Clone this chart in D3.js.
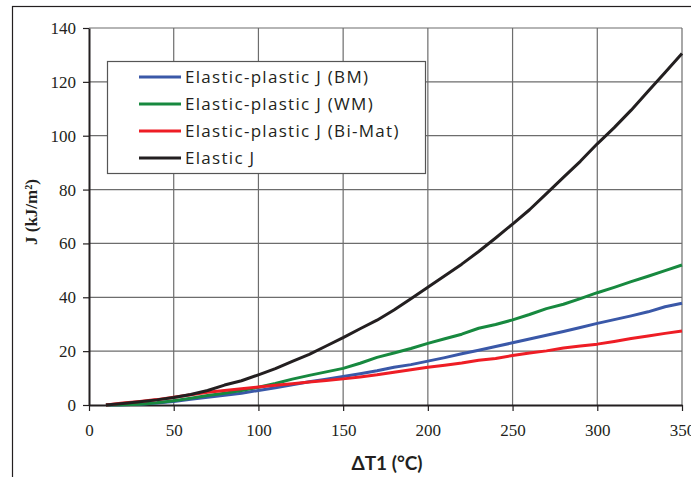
<!DOCTYPE html>
<html>
<head>
<meta charset="utf-8">
<script src="https://cdn.jsdelivr.net/npm/d3@7"></script>
<style>
  body { margin: 0; background: #fff; }
  svg { display: block; }
</style>
</head>
<body>
<svg></svg>
<script>
// temperature difference (°C)
let deltaT = [10, 20, 30, 40, 50, 60, 70, 80, 90, 100, 110, 120, 130, 140, 150, 160, 170, 180,
              190, 200, 210, 220, 230, 240, 250, 260, 270, 280, 290, 300, 310, 320, 330, 340, 350]

// J values (kJ/m²)
let jBM = [0, 0.1, 0.3, 0.7, 1.3, 2.1, 2.9, 3.6, 4.4, 5.4, 6.4, 7.5, 8.6, 9.6, 10.6, 11.6, 12.7, 14.0,
           15.0, 16.3, 17.6, 19.0, 20.3, 21.7, 23.1, 24.5, 25.9, 27.3, 28.8, 30.3, 31.7, 33.1, 34.6, 36.5, 37.8]
let jWM = [0, 0.1, 0.3, 0.8, 1.6, 2.5, 3.5, 4.4, 5.4, 6.6, 8.0, 9.6, 11.0, 12.3, 13.6, 15.5, 17.7, 19.3,
           21.0, 22.9, 24.6, 26.3, 28.5, 29.9, 31.6, 33.6, 35.8, 37.4, 39.5, 41.7, 43.7, 45.8, 47.8, 49.9, 52.0]
let jBiMat = [0, 0.7, 1.3, 2.0, 2.9, 3.8, 4.7, 5.4, 6.0, 6.7, 7.3, 7.9, 8.5, 9.1, 9.7, 10.4, 11.2, 12.2,
              13.1, 14.0, 14.8, 15.6, 16.6, 17.3, 18.4, 19.3, 20.1, 21.2, 21.9, 22.6, 23.6, 24.7, 25.6, 26.6, 27.5]
let jElastic = [0, 0.6, 1.2, 1.9, 2.8, 3.9, 5.4, 7.4, 9.0, 11.2, 13.5, 16.2, 18.8, 21.9, 25.0, 28.3, 31.5, 35.3,
                39.5, 43.7, 48.0, 52.3, 57.0, 62.0, 67.2, 72.5, 78.5, 84.5, 90.5, 97.0, 103.0, 109.5, 116.5, 123.5, 130.5]

let seriesNames = ['Elastic-plastic J (BM)', 'Elastic-plastic J (WM)', 'Elastic-plastic J (Bi-Mat)', 'Elastic J']
let seriesValues = [jBM, jWM, jBiMat, jElastic]
let seriesColors = ['#3a58a8', '#17893f', '#ee1d25', '#231f20']

let xTicks = [0, 50, 100, 150, 200, 250, 300, 350]
let yTicks = [0, 20, 40, 60, 80, 100, 120, 140]

let width = 691
let height = 477
let plotLeft = 89
let plotRight = 682
let plotTop = 28
let plotBottom = 405

let serif = '"Liberation Serif", "Times New Roman", serif'

let svg = d3.select('svg')
    .attr('width', width)
    .attr('height', height)

// outer frame
svg.append('rect')
    .attr('x', 12.5)
    .attr('y', 6.5)
    .attr('width', 720)
    .attr('height', 520)
    .attr('fill', 'none')
    .attr('stroke', '#231f20')
    .attr('stroke-width', 1.2)

let xScale = d3.scaleLinear().domain([0, 350]).range([plotLeft, plotRight])
let yScale = d3.scaleLinear().domain([0, 140]).range([plotBottom, plotTop])

// grid
svg.append('g')
    .selectAll('line')
    .data(xTicks.slice(1))
    .enter()
    .append('line')
    .attr('x1', d => xScale(d))
    .attr('x2', d => xScale(d))
    .attr('y1', plotTop)
    .attr('y2', plotBottom)
    .attr('stroke', '#6d6d6d')
    .attr('stroke-width', 1.2)

svg.append('g')
    .selectAll('line')
    .data(yTicks.slice(1))
    .enter()
    .append('line')
    .attr('x1', plotLeft)
    .attr('x2', plotRight)
    .attr('y1', d => yScale(d))
    .attr('y2', d => yScale(d))
    .attr('stroke', '#6d6d6d')
    .attr('stroke-width', 1.2)

// axes
let xAxis = d3.axisBottom(xScale).tickValues(xTicks).tickSize(6).tickSizeOuter(0)
let yAxis = d3.axisLeft(yScale).tickValues(yTicks).tickSize(6).tickSizeOuter(0)

let gx = svg.append('g')
    .attr('transform', 'translate(0,' + plotBottom + ')')
    .call(xAxis)
    .attr('font-family', serif)
    .attr('font-size', 17)
gx.select('.domain').attr('stroke', '#231f20').attr('stroke-width', 2)
gx.selectAll('.tick line').attr('stroke', '#231f20').attr('stroke-width', 1.2)
gx.selectAll('text')
    .attr('y', 19)
    .attr('dy', '0.71em')
    .attr('fill', '#231f20')

let gy = svg.append('g')
    .attr('transform', 'translate(' + plotLeft + ',0)')
    .call(yAxis)
    .attr('font-family', serif)
    .attr('font-size', 17)
gy.select('.domain').attr('stroke', '#231f20').attr('stroke-width', 2)
gy.selectAll('.tick line').attr('stroke', '#231f20').attr('stroke-width', 1.2)
gy.selectAll('text')
    .attr('x', -13)
    .attr('fill', '#231f20')

// legend box
svg.append('rect')
    .attr('x', 107.5)
    .attr('y', 61.5)
    .attr('width', 318)
    .attr('height', 112)
    .attr('fill', '#fff')
    .attr('stroke', '#555')
    .attr('stroke-width', 1.2)

let legend = svg.append('g')
    .selectAll('g')
    .data(seriesNames)
    .enter()
    .append('g')
    .attr('transform', (d, i) => 'translate(0,' + (77 + i * 27) + ')')

legend.append('line')
    .attr('x1', 139)
    .attr('x2', 181)
    .attr('stroke', (d, i) => seriesColors[i])
    .attr('stroke-width', 3)

legend.append('text')
    .attr('x', 185)
    .attr('dy', '0.35em')
    .attr('font-family', '"Open Sans", sans-serif')
    .attr('font-size', 17)
    .attr('letter-spacing', 1.3)
    .attr('fill', '#231f20')
    .text(d => d)

// curves
let line = d3.line()
    .x((d, i) => xScale(deltaT[i]))
    .y(d => yScale(d))

svg.append('g')
    .selectAll('path')
    .data(seriesValues)
    .enter()
    .append('path')
    .attr('d', d => line(d))
    .attr('fill', 'none')
    .attr('stroke', (d, i) => seriesColors[i])
    .attr('stroke-width', 3)
    .attr('stroke-linejoin', 'round')

// axis titles
svg.append('text')
    .attr('x', 387)
    .attr('y', 470)
    .attr('text-anchor', 'middle')
    .attr('font-family', 'Lato, sans-serif')
    .attr('font-weight', 'bold')
    .attr('font-size', 19)
    .attr('fill', '#231f20')
    .text('ΔT1 (°C)')

svg.append('text')
    .attr('transform', 'translate(37,212) rotate(-90)')
    .attr('text-anchor', 'middle')
    .attr('font-family', serif)
    .attr('font-weight', 'bold')
    .attr('font-size', 17)
    .attr('fill', '#231f20')
    .text('J (kJ/m²)')
</script>
</body>
</html>
